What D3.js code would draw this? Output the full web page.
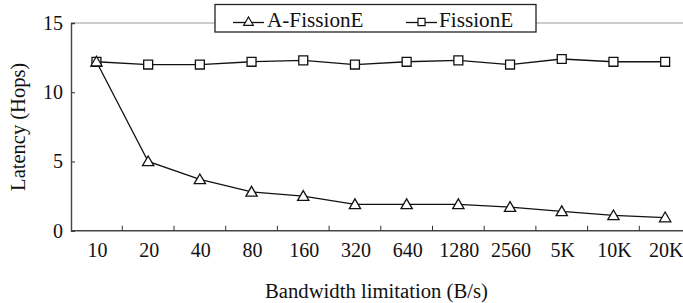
<!DOCTYPE html>
<html>
<head>
<meta charset="utf-8">
<script src="https://cdn.jsdelivr.net/npm/d3@7"></script>
<style>
  html, body { margin: 0; padding: 0; background: #fff; }
  svg { display: block; }
</style>
</head>
<body>
<div id="chart"></div>
<script>
// --- data ---
const categories = ['10', '20', '40', '80', '160', '320', '640', '1280', '2560', '5K', '10K', '20K'];
const aFissionE = [12.2, 5.0, 3.7, 2.8, 2.5, 1.9, 1.9, 1.9, 1.7, 1.4, 1.1, 0.95];
const fissionE  = [12.2, 12.0, 12.0, 12.2, 12.3, 12.0, 12.2, 12.3, 12.0, 12.4, 12.2, 12.2];
const yTicks = [0, 5, 10, 15];

const W = 683, H = 303;
const M = { left: 71, top: 23, bottom: 72.3 };
const FONT = "'Liberation Serif', Tinos, 'Times New Roman', serif";

const svg = d3.select('#chart').append('svg')
  .attr('width', W).attr('height', H)
  .attr('viewBox', `0 0 ${W} ${H}`);

const x = d3.scaleBand().domain(categories).range([70.6, 691]);
const y = d3.scaleLinear().domain([0, 15]).range([H - M.bottom, M.top]);
const cx = d => x(d) + x.bandwidth() / 2;

function serif(sel, size) {
  return sel.style('font-family', FONT).style('font-size', size + 'px').style('fill', '#111');
}

// gray top frame line
svg.append('line')
  .attr('x1', M.left).attr('x2', W)
  .attr('y1', y(15)).attr('y2', y(15))
  .attr('stroke', '#999').attr('stroke-width', 1.2);

// y axis (ticks point inward)
const yAxis = svg.append('g')
  .attr('transform', `translate(${M.left},0)`)
  .call(d3.axisRight(y).tickValues(yTicks).tickSize(4).tickFormat(d3.format('d')));
yAxis.select('.domain').attr('stroke', '#444').attr('stroke-width', 1.4);
yAxis.selectAll('.tick line').attr('stroke', '#333');
yAxis.selectAll('.tick text')
  .attr('x', -8).attr('text-anchor', 'end')
  .call(serif, 20);

// x axis: ticks between categories, pointing up
const xAxis = svg.append('g')
  .attr('transform', `translate(0,${y(0)})`)
  .call(d3.axisBottom(x).tickSize(0).tickSizeOuter(0));
xAxis.select('.domain').attr('stroke', '#444').attr('stroke-width', 1.4)
  .attr('d', `M${M.left},0H${W}`);
xAxis.selectAll('.tick text')
  .attr('x', 1).attr('y', 26.6).attr('dy', 0)
  .call(serif, 20);
xAxis.selectAll('.sep')
  .data(categories.slice(1))
  .join('line')
  .attr('class', 'sep')
  .attr('x1', d => x(d)).attr('x2', d => x(d))
  .attr('y1', 0).attr('y2', -5)
  .attr('stroke', '#333');

// axis titles
svg.append('text')
  .attr('x', 265).attr('y', 298)
  .attr('textLength', 223).attr('lengthAdjust', 'spacingAndGlyphs')
  .call(serif, 20)
  .text('Bandwidth limitation (B/s)');
svg.append('text')
  .attr('transform', `translate(25,${(y(0) + y(15)) / 2}) rotate(-90)`)
  .attr('text-anchor', 'middle')
  .call(serif, 20.5)
  .text('Latency (Hops)');

// series
const line = d3.line().x((d, i) => cx(categories[i])).y(d => y(d));
const tri = d3.symbol().type(d3.symbolTriangle).size(55);
const sq = d3.symbol().type(d3.symbolSquare).size(80);

function drawSeries(values, sym, dy) {
  svg.append('path').datum(values)
    .attr('d', line)
    .attr('fill', 'none').attr('stroke', '#111').attr('stroke-width', 1.3);
  svg.append('g').selectAll('path')
    .data(values)
    .join('path')
    .attr('d', sym)
    .attr('transform', (d, i) => `translate(${cx(categories[i])},${y(d) + dy})`)
    .attr('fill', '#fff').attr('stroke', '#111').attr('stroke-width', 1.3);
}
drawSeries(fissionE, sq, 0);
drawSeries(aFissionE, tri, 1);

// legend
const lg = svg.append('g');
lg.append('rect')
  .attr('x', 215).attr('y', 4.5).attr('width', 321).attr('height', 27.5)
  .attr('fill', '#fff').attr('stroke', '#222').attr('stroke-width', 1.3);
const legendItems = [
  { name: 'A-FissionE', sym: d3.symbol().type(d3.symbolTriangle).size(40), x0: 233, tx: 267, dy: 0.5 },
  { name: 'FissionE', sym: d3.symbol().type(d3.symbolSquare).size(50), x0: 406, tx: 439, dy: 0 }
];
legendItems.forEach(it => {
  const ly = 22.5;
  lg.append('line')
    .attr('x1', it.x0).attr('x2', it.x0 + 31)
    .attr('y1', ly).attr('y2', ly)
    .attr('stroke', '#111').attr('stroke-width', 1.3);
  lg.append('path')
    .attr('d', it.sym)
    .attr('transform', `translate(${it.x0 + 15.5},${ly + it.dy - 0.5})`)
    .attr('fill', '#fff').attr('stroke', '#111').attr('stroke-width', 1.2);
  lg.append('text')
    .attr('x', it.tx).attr('y', 26.7)
    .call(serif, 21.2)
    .text(it.name);
});
</script>
</body>
</html>
